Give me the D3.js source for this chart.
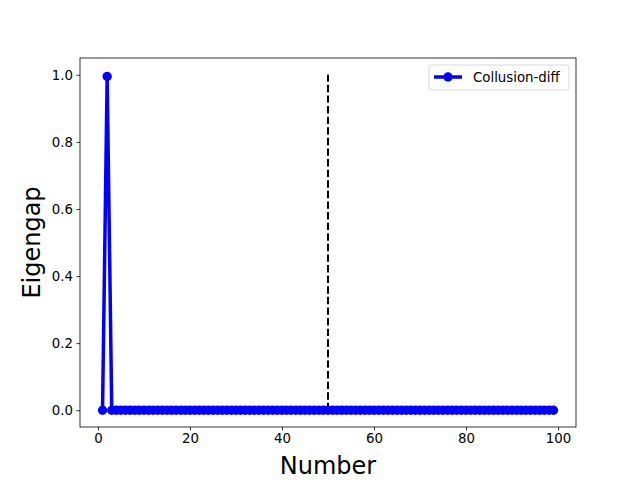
<!DOCTYPE html>
<html>
<head>
<meta charset="utf-8">
<script src="https://cdn.jsdelivr.net/npm/d3@7"></script>
<style>
  body { margin: 0; background: #fff; }
  text { font-family: "DejaVu Sans", sans-serif; }
</style>
</head>
<body>
<script>
const xs = [1,2,3,4,5,6,7,8,9,10,11,12,13,14,15,16,17,18,19,20,21,22,23,24,25,26,27,28,29,30,
  31,32,33,34,35,36,37,38,39,40,41,42,43,44,45,46,47,48,49,50,51,52,53,54,55,56,57,58,59,60,
  61,62,63,64,65,66,67,68,69,70,71,72,73,74,75,76,77,78,79,80,81,82,83,84,85,86,87,88,89,90,
  91,92,93,94,95,96,97,98,99];
const gaps = [0,0.995,0,0,0,0,0,0,0,0,0,0,0,0,0,0,0,0,0,0,0,0,0,0,0,0,0,0,0,0,
  0,0,0,0,0,0,0,0,0,0,0,0,0,0,0,0,0,0,0,0,0,0,0,0,0,0,0,0,0,0,
  0,0,0,0,0,0,0,0,0,0,0,0,0,0,0,0,0,0,0,0,0,0,0,0,0,0,0,0,0,0,
  0,0,0,0,0,0,0,0,0];
const xTicks = [0, 20, 40, 60, 80, 100];
const yTicks = [0.0, 0.2, 0.4, 0.6, 0.8, 1.0];
const vline = { x: 50, y0: 0, y1: 1 };
const seriesName = "Collusion-diff";

const width = 640, height = 480;
const m = { left: 80, right: 576, top: 58, bottom: 427 };

const svg = d3.select("body").append("svg")
  .attr("width", width).attr("height", height);

const x = d3.scaleLinear().domain([-3.9, 103.9]).range([m.left, m.right]);
const y = d3.scaleLinear().domain([-0.05, 1.05]).range([m.bottom, m.top]);

// axes
const xAxis = d3.axisBottom(x).tickValues(xTicks).tickSize(3.5).tickPadding(3.5).tickFormat(d3.format("d"));
const yAxis = d3.axisLeft(y).tickValues(yTicks).tickSize(3.5).tickPadding(3.5).tickFormat(d3.format(".1f"));

const gx = svg.append("g").attr("transform", `translate(0,${m.bottom})`).call(xAxis);
const gy = svg.append("g").attr("transform", `translate(${m.left},0)`).call(yAxis);
[gx, gy].forEach(g => {
  g.select(".domain").remove();
  g.selectAll("line").attr("stroke", "#000").attr("stroke-width", 0.8);
  g.selectAll("text").attr("fill", "#000").style("font-size", "13.33px")
    .style("font-family", "DejaVu Sans, sans-serif");
});

// dashed vertical line
svg.append("line")
  .attr("x1", x(vline.x)).attr("x2", x(vline.x))
  .attr("y1", y(vline.y0)).attr("y2", y(vline.y1))
  .attr("stroke", "#000").attr("stroke-width", 2)
  .attr("stroke-dasharray", "7.4,3.2");

// series
const pts = xs.map((d, i) => [d, gaps[i]]);
svg.append("path")
  .datum(pts)
  .attr("fill", "none").attr("stroke", "#0000ff").attr("stroke-width", 3.5)
  .attr("stroke-linejoin", "round")
  .attr("d", d3.line().x(d => x(d[0])).y(d => y(d[1])));

svg.append("g").selectAll("circle").data(pts).join("circle")
  .attr("cx", d => x(d[0])).attr("cy", d => y(d[1]))
  .attr("r", 4.7).attr("fill", "#0000ff");

// frame
svg.append("rect")
  .attr("x", m.left).attr("y", m.top)
  .attr("width", m.right - m.left).attr("height", m.bottom - m.top)
  .attr("fill", "none").attr("stroke", "#000").attr("stroke-width", 0.8);

// axis labels
svg.append("text").attr("x", (m.left + m.right) / 2).attr("y", 474)
  .attr("text-anchor", "middle").style("font-size", "24px").text("Number");
svg.append("text")
  .attr("transform", `translate(40,${(m.top + m.bottom) / 2}) rotate(-90)`)
  .attr("text-anchor", "middle").style("font-size", "24px").text("Eigengap");

// legend
const lg = svg.append("g").attr("transform", "translate(429,65)");
lg.append("rect").attr("width", 140).attr("height", 25).attr("rx", 2.5)
  .attr("fill", "#fff").attr("fill-opacity", 0.8)
  .attr("stroke", "#d9d9d9").attr("stroke-width", 1);
lg.append("line").attr("x1", 5).attr("x2", 33).attr("y1", 12).attr("y2", 12)
  .attr("stroke", "#0000ff").attr("stroke-width", 3.5);
lg.append("circle").attr("cx", 19).attr("cy", 12).attr("r", 4.7).attr("fill", "#0000ff");
lg.append("text").attr("x", 44).attr("y", 17).style("font-size", "13.33px").text(seriesName);
</script>
</body>
</html>
